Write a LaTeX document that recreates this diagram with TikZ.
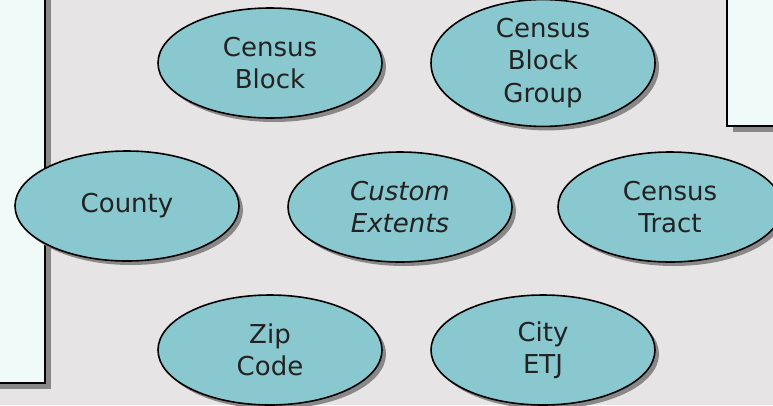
\documentclass[tikz,border=0pt]{standalone}
\usepackage{fontspec}
\setmainfont{DejaVu Sans}
\usetikzlibrary{shapes.geometric, shadows}

\definecolor{bggray}{RGB}{230,228,228}
\definecolor{regionfill}{RGB}{138,200,208}
\definecolor{panelfill}{RGB}{240,250,249}
\definecolor{shadowgray}{RGB}{136,136,136}
\definecolor{textdark}{RGB}{34,34,34}

\begin{document}
\begin{tikzpicture}[x=1pt, y=-1pt,
	region/.style={ellipse, draw=black, line width=1.6pt, fill=regionfill,
		minimum width=224pt, minimum height=110pt, inner sep=0pt,
		align=center, text=textdark, font=\fontsize{26}{32.5}\selectfont,
		drop shadow={shadow xshift=4pt, shadow yshift=-4pt, fill=shadowgray, opacity=1}},
	panel/.style={draw=black, line width=1.6pt, fill=panelfill,
		drop shadow={shadow xshift=6pt, shadow yshift=-6pt, fill=shadowgray, opacity=1}}]
	\fill[bggray] (0,0) rectangle (773,405);
	\useasboundingbox (0,0) rectangle (773,405);

	\path[panel] (-20,-20) rectangle (45,383);
	\path[panel] (727,-20) rectangle (800,126);

	\node[region] (block) at (270,63) {Census\\Block};
	\node[region] (blockgroup) at (543,63) {Census\\Block\\Group};
	\node[region] (county) at (127,206) {County};
	\node[region] (custom) at (400,207) {\itshape Custom\\\itshape Extents};
	\node[region] (tract) at (670,207) {Census\\Tract};
	\node[region] (zip) at (270,350) {Zip\\Code};
	\node[region] (city) at (543,350) {City\\ETJ};
\end{tikzpicture}
\end{document}
